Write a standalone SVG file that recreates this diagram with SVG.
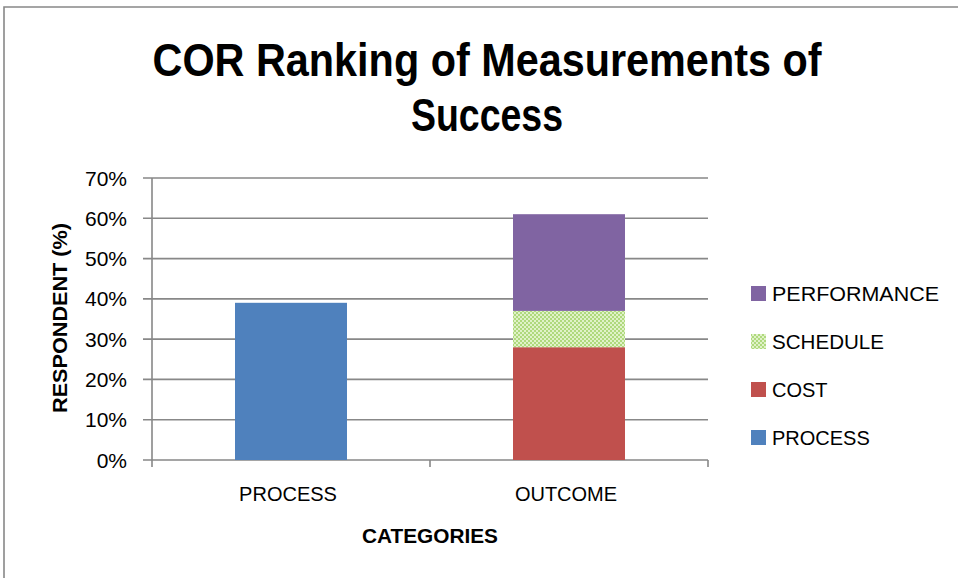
<svg xmlns="http://www.w3.org/2000/svg" width="958" height="578" viewBox="0 0 958 578">
<style>
.t{font-family:"Liberation Sans",Arial,sans-serif;fill:#000}
.title{font-size:46px;font-weight:bold}
.lab{font-size:20px}
.tick{font-size:21px}
.bold{font-size:21px;font-weight:bold}
.grid{stroke:#888;stroke-width:1.6;fill:none}
</style>
<defs>
<pattern id="chk" width="4" height="4" patternUnits="userSpaceOnUse">
<rect width="4" height="4" fill="#e0f2c8"/>
<rect width="2" height="2" fill="#afd97d"/>
<rect x="2" y="2" width="2" height="2" fill="#afd97d"/>
</pattern>
</defs>
<rect width="958" height="578" fill="#fff"/>
<path d="M4,578 V7 H958" fill="none" stroke="#888" stroke-width="1.6"/>
<g id="title">
<text class="t title" x="487" y="76" text-anchor="middle" textLength="669" lengthAdjust="spacingAndGlyphs">COR Ranking of Measurements of</text>
<text class="t title" x="487" y="131" text-anchor="middle" textLength="152" lengthAdjust="spacingAndGlyphs">Success</text>
</g>
<g id="grid">
<path class="grid" d="M143,178H708M143,218.3H708M143,258.6H708M143,298.9H708M143,339.1H708M143,379.4H708M143,419.7H708M143,460H708M152,178V467M430,460V467M708,460V467"/>
</g>
<g id="yticks">
<text class="t tick" x="127" y="185.5" text-anchor="end">70%</text>
<text class="t tick" x="127" y="225.8" text-anchor="end">60%</text>
<text class="t tick" x="127" y="266.1" text-anchor="end">50%</text>
<text class="t tick" x="127" y="306.4" text-anchor="end">40%</text>
<text class="t tick" x="127" y="346.6" text-anchor="end">30%</text>
<text class="t tick" x="127" y="386.9" text-anchor="end">20%</text>
<text class="t tick" x="127" y="427.2" text-anchor="end">10%</text>
<text class="t tick" x="127" y="467.5" text-anchor="end">0%</text>
</g>
<g id="bars">
<rect x="235" y="302.8" width="112" height="157.2" fill="#4f81bd"/>
<rect x="513" y="347.2" width="112" height="112.8" fill="#c0504d"/>
<rect x="513" y="310.9" width="112" height="36.3" fill="url(#chk)"/>
<rect x="513" y="214.2" width="112" height="96.7" fill="#8064a2"/>
</g>
<g id="xlabels">
<text class="t lab" x="288" y="501" text-anchor="middle">PROCESS</text>
<text class="t lab" x="566" y="501" text-anchor="middle">OUTCOME</text>
<text class="t bold" x="430" y="543" text-anchor="middle" textLength="136" lengthAdjust="spacingAndGlyphs">CATEGORIES</text>
<text class="t bold" transform="translate(67,318) rotate(-90)" text-anchor="middle" textLength="190" lengthAdjust="spacingAndGlyphs">RESPONDENT (%)</text>
</g>
<g id="legend">
<rect x="751" y="286" width="15" height="15" fill="#8064a2"/>
<text class="t lab" x="772" y="301" textLength="167" lengthAdjust="spacingAndGlyphs">PERFORMANCE</text>
<rect x="751" y="334" width="15" height="15" fill="url(#chk)"/>
<text class="t lab" x="772" y="349" textLength="112" lengthAdjust="spacingAndGlyphs">SCHEDULE</text>
<rect x="751" y="382" width="15" height="15" fill="#c0504d"/>
<text class="t lab" x="772" y="397">COST</text>
<rect x="751" y="430" width="15" height="15" fill="#4f81bd"/>
<text class="t lab" x="772" y="445">PROCESS</text>
</g>
</svg>
